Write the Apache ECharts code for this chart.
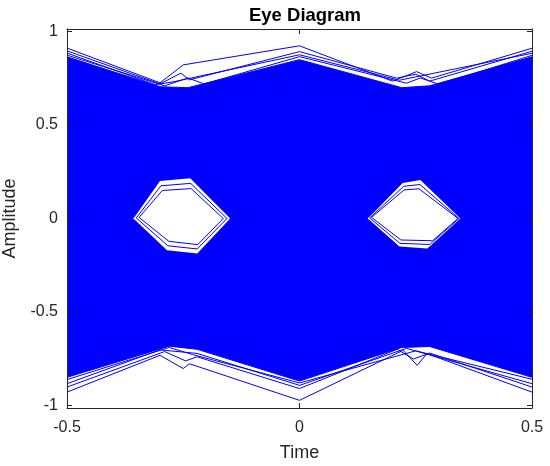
<!DOCTYPE html>
<html>
<head>
<meta charset="utf-8">
<title>Eye Diagram</title>
<script src="https://cdn.jsdelivr.net/npm/echarts@6/dist/echarts.min.js"></script>
<style>
html, body { margin: 0; padding: 0; background: #fff; }
#eyeChart { width: 550px; height: 466px; }
</style>
</head>
<body>
<div id="eyeChart"></div>
<script>
// tick labels
var timeTicks = [-0.5, 0, 0.5];
var ampTicks = [-1, -0.5, 0, 0.5, 1];

// solid band of overlapping traces, [time, amplitude]
var bandUpper = [[-0.5, 0.865], [-0.3, 0.705], [-0.24, 0.70], [0, 0.85], [0.22, 0.70], [0.28, 0.71], [0.5, 0.865]];
var bandLower = [[-0.5, -0.85], [-0.28, -0.683], [-0.22, -0.70], [0, -0.87], [0.22, -0.69], [0.28, -0.685], [0.5, -0.85]];

// eye openings (outline of the clear region)
var leftEyeUpper = [[-0.357, 0], [-0.30, 0.20], [-0.235, 0.215], [-0.149, 0]];
var leftEyeLower = [[-0.357, 0], [-0.285, -0.17], [-0.22, -0.187], [-0.149, 0]];
var rightEyeUpper = [[0.147, 0], [0.222, 0.19], [0.26, 0.206], [0.346, 0]];
var rightEyeLower = [[0.147, 0], [0.215, -0.15], [0.275, -0.16], [0.346, 0]];

// single traces seen round the eye openings
var eyeTraces = [
  [[-0.345, 0.006], [-0.295, 0.15], [-0.233, 0.16], [-0.164, 0]],
  [[-0.345, 0.006], [-0.281, -0.122], [-0.219, -0.14], [-0.164, 0]],
  [[-0.351, 0.003], [-0.298, 0.175], [-0.234, 0.188], [-0.156, 0]],
  [[-0.351, 0.003], [-0.283, -0.146], [-0.22, -0.163], [-0.156, 0]],
  [[0.155, 0.006], [0.225, 0.153], [0.257, 0.159], [0.341, 0]],
  [[0.155, 0.006], [0.218, -0.115], [0.286, -0.119], [0.341, 0]],
  [[0.151, 0.003], [0.224, 0.172], [0.259, 0.182], [0.343, 0]],
  [[0.151, 0.003], [0.216, -0.133], [0.28, -0.139], [0.343, 0]]
];

// outermost single traces above and below the band
var topTraces = [
  [[-0.5, 0.912], [-0.3, 0.726], [-0.25, 0.822], [0, 0.924], [0.2, 0.735], [0.252, 0.786], [0.284, 0.751], [0.5, 0.911]],
  [[-0.5, 0.897], [-0.3, 0.72], [-0.255, 0.778], [-0.237, 0.742], [0, 0.893], [0.209, 0.751], [0.25, 0.772], [0.28, 0.735], [0.5, 0.895]],
  [[-0.5, 0.885], [-0.31, 0.716], [-0.27, 0.732], [0, 0.876], [0.215, 0.74], [0.5, 0.884]],
  [[-0.5, 0.874], [-0.29, 0.71], [-0.24, 0.752], [-0.205, 0.72], [0, 0.866], [0.23, 0.724], [0.26, 0.752], [0.3, 0.718], [0.5, 0.873]]
];
var bottomTraces = [
  [[-0.5, -0.929], [-0.3, -0.732], [-0.25, -0.803], [-0.237, -0.777], [0, -0.973], [0.223, -0.705], [0.253, -0.786], [0.274, -0.723], [0.5, -0.929]],
  [[-0.5, -0.902], [-0.29, -0.712], [-0.245, -0.762], [-0.22, -0.74], [0, -0.91], [0.21, -0.70], [0.245, -0.752], [0.28, -0.72], [0.5, -0.902]],
  [[-0.5, -0.884], [-0.3, -0.703], [-0.22, -0.722], [0, -0.893], [0.23, -0.695], [0.5, -0.884]],
  [[-0.5, -0.862], [-0.28, -0.69], [-0.23, -0.728], [0, -0.88], [0.25, -0.708], [0.5, -0.86]]
];

var BLUE = "#0000ff";
var AXIS = "#262626";
var FONT = "'Liberation Sans', Arial, Helvetica, sans-serif";

function traceSeries(data) {
  return {
    type: "line",
    data: data,
    showSymbol: false,
    symbol: "none",
    silent: true,
    lineStyle: { color: BLUE, width: 1 }
  };
}

function areaSeries(data, color, origin) {
  return {
    type: "line",
    data: data,
    showSymbol: false,
    symbol: "none",
    silent: true,
    lineStyle: { color: color, width: color === BLUE ? 1 : 0, opacity: color === BLUE ? 1 : 0 },
    areaStyle: { color: color, opacity: 1, origin: origin }
  };
}

var series = [];
series.push(areaSeries(bandUpper, BLUE, -0.05));
series.push(areaSeries(bandLower, BLUE, 0.05));
series.push(areaSeries(leftEyeUpper, "#ffffff", -0.004));
series.push(areaSeries(leftEyeLower, "#ffffff", 0.004));
series.push(areaSeries(rightEyeUpper, "#ffffff", -0.004));
series.push(areaSeries(rightEyeLower, "#ffffff", 0.004));
eyeTraces.forEach(function (t) { series.push(traceSeries(t)); });
topTraces.forEach(function (t) { series.push(traceSeries(t)); });
bottomTraces.forEach(function (t) { series.push(traceSeries(t)); });

var chart = echarts.init(document.getElementById("eyeChart"), null, { renderer: "canvas" });

var axisLine = { show: true, onZero: false, lineStyle: { color: AXIS, width: 1 } };
var option = {
  animation: false,
  backgroundColor: "#ffffff",
  title: {
    text: "Eye Diagram",
    left: 300,
    textAlign: "center",
    top: 1,
    textStyle: { fontFamily: FONT, fontSize: 18.5, fontWeight: "bold", color: "#000" }
  },
  grid: { left: 67, right: 18, top: 29, bottom: 58, outerBoundsMode: "none", containLabel: false },
  xAxis: [
    {
      type: "value",
      min: -0.5,
      max: 0.5,
      interval: 0.5,
      z: 5,
      axisLine: axisLine,
      axisTick: { show: true, inside: true, length: 5, lineStyle: { color: AXIS } },
      axisLabel: { color: AXIS, fontFamily: FONT, fontSize: 16, margin: 12 },
      splitLine: { show: false },
      name: "Time",
      nameLocation: "middle",
      nameGap: 36,
      nameTextStyle: { color: AXIS, fontFamily: FONT, fontSize: 18 }
    },
    {
      type: "value",
      position: "top",
      min: -0.5,
      max: 0.5,
      interval: 0.5,
      z: 5,
      axisLine: axisLine,
      axisTick: { show: true, inside: true, length: 5, lineStyle: { color: AXIS } },
      axisLabel: { show: false },
      splitLine: { show: false }
    }
  ],
  yAxis: [
    {
      type: "value",
      min: -1.014,
      max: 1.014,
      z: 5,
      axisLine: axisLine,
      axisTick: { show: true, inside: true, length: 5, customValues: ampTicks, lineStyle: { color: AXIS } },
      axisLabel: { color: AXIS, fontFamily: FONT, fontSize: 16, margin: 9, customValues: ampTicks },
      splitLine: { show: false },
      name: "Amplitude",
      nameLocation: "middle",
      nameGap: 46,
      nameTextStyle: { color: AXIS, fontFamily: FONT, fontSize: 18 }
    },
    {
      type: "value",
      position: "right",
      min: -1.014,
      max: 1.014,
      z: 5,
      axisLine: axisLine,
      axisTick: { show: true, inside: true, length: 5, customValues: ampTicks, lineStyle: { color: AXIS } },
      axisLabel: { show: false },
      splitLine: { show: false }
    }
  ],
  series: series
};
chart.setOption(option);
</script>
</body>
</html>
